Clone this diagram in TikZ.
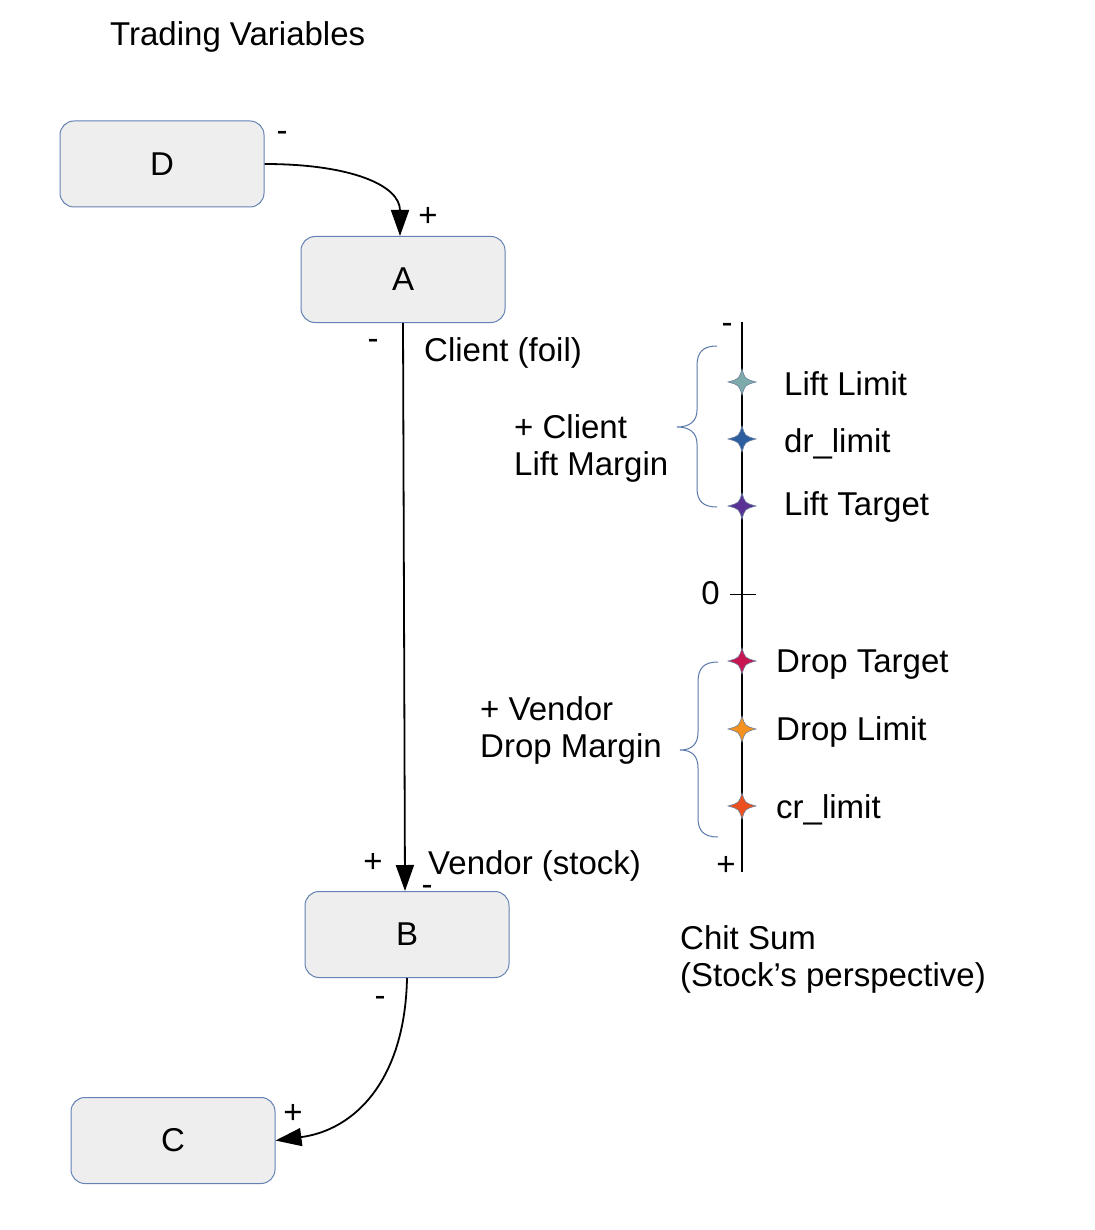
\documentclass[tikz,border=0pt]{standalone}
\usepackage{fontspec}
\setmainfont{Liberation Sans}
\usetikzlibrary{arrows.meta}
\definecolor{boxfill}{RGB}{238,238,238}
\definecolor{boxline}{RGB}{100,130,180}
\definecolor{bracecol}{RGB}{90,120,170}
\definecolor{starline}{RGB}{110,130,160}
\definecolor{cLiftLimit}{RGB}{125,170,170}
\definecolor{cDr}{RGB}{45,95,160}
\definecolor{cLiftTarget}{RGB}{90,50,150}
\definecolor{cDropTarget}{RGB}{200,20,80}
\definecolor{cDropLimit}{RGB}{245,145,30}
\definecolor{cCr}{RGB}{235,80,30}
\newcommand\lblfont{\fontsize{33}{38}\selectfont}
\begin{document}
\begin{tikzpicture}[x=1pt,y=-1pt,
  box/.style={draw=boxline, fill=boxfill, rounded corners=14pt, minimum width=204pt, minimum height=86pt, line width=1pt, font=\lblfont, inner sep=0pt},
  lbl/.style={font=\lblfont, anchor=base west, inner sep=0pt},
  sign/.style={font=\lblfont, inner sep=0pt},
  conn/.style={line width=1.8pt, -{Triangle[length=26pt,width=18pt]}},
  brc/.style={draw=bracecol, line width=1pt},
  starmark/.pic={\filldraw[draw=starline, fill=#1, line width=0.6pt]
     (14,0) .. controls (3,3) .. (0,13) .. controls (-3,3) .. (-14,0)
     .. controls (-3,-3) .. (0,-13) .. controls (3,-3) .. (14,0) -- cycle;}
]
\fill[white] (0,0) rectangle (1094,1230);
\useasboundingbox (0,0) rectangle (1094,1230);

\node[lbl] (title) at (110,46) {Trading Variables};

\node[box] (D) at (162,164) {D};
\node[box] (A) at (403,279.5) {A};
\node[box] (B) at (407,934.5) {B};
\node[box] (C) at (173,1140.5) {C};

\draw[conn] (D.east) .. controls (350,164) and (400,185) .. ([xshift=-3]A.north);
\draw[conn] (A.south) -- ([xshift=-2]B.north);
\draw[conn] (B.south) .. controls (405,1080) and (355,1130) .. (C.east);

\node[sign] (sD) at (282,136) {-};
\node[sign] (sA1) at (428,217) {+};
\node[sign] (sA2) at (373,344) {-};
\node[lbl] (client) at (424,361) {Client (foil)};
\node[sign] (sB1) at (373,863) {+};
\node[lbl] (vendor) at (428,874) {Vendor (stock)};
\node[sign] (sB2) at (427,890) {-};
\node[sign] (sB3) at (380,1001) {-};
\node[sign] (sC) at (293,1114) {+};

% axis
\coordinate (axtop) at (742,322);
\coordinate (axbot) at (742,872);
\draw[line width=1.3pt] (axtop) -- (axbot);
\coordinate (tickL) at (730,594);
\coordinate (tickR) at (756,594);
\draw[line width=0.8pt] (tickL) -- (tickR);
\node[font=\lblfont, anchor=base east, inner sep=0pt] (zero) at (720,604) {0};
\node[sign] (axminus) at (727,328) {-};
\node[sign] (axplus) at (726,866) {+};

\pic at (742,382) {starmark=cLiftLimit};
\pic at (742,439) {starmark=cDr};
\pic at (742,506) {starmark=cLiftTarget};
\pic at (742,661) {starmark=cDropTarget};
\pic at (742,729) {starmark=cDropLimit};
\pic at (742,806) {starmark=cCr};

\node[lbl] (l1) at (784,395) {Lift Limit};
\node[lbl] (l2) at (784,452) {dr\_limit};
\node[lbl] (l3) at (784,515) {Lift Target};
\node[lbl] (l4) at (776,672) {Drop Target};
\node[lbl] (l5) at (776,740) {Drop Limit};
\node[lbl] (l6) at (776,818) {cr\_limit};

% braces
\draw[brc] (717,346) .. controls (703,346) and (697,352) .. (697,366) -- (697,410)
  .. controls (697,421) and (690,427) .. (677,427)
  .. controls (690,427) and (697,433) .. (697,444) -- (697,488)
  .. controls (697,501) and (703,507) .. (717,507);
\draw[brc] (718,662) .. controls (704,662) and (698,668) .. (698,682) -- (698,732)
  .. controls (698,744) and (692,750) .. (680,750)
  .. controls (692,750) and (698,756) .. (698,768) -- (698,818)
  .. controls (698,831) and (704,837) .. (718,837);

\node[lbl] (cm1) at (514,438) {+ Client};
\node[lbl] (cm2) at (514,475) {Lift Margin};
\node[lbl] (vm1) at (480,720) {+ Vendor};
\node[lbl] (vm2) at (480,757) {Drop Margin};

\node[lbl] (cs1) at (680,949) {Chit Sum};
\node[lbl] (cs2) at (680,986) {(Stock’s perspective)};
\end{tikzpicture}
\end{document}
